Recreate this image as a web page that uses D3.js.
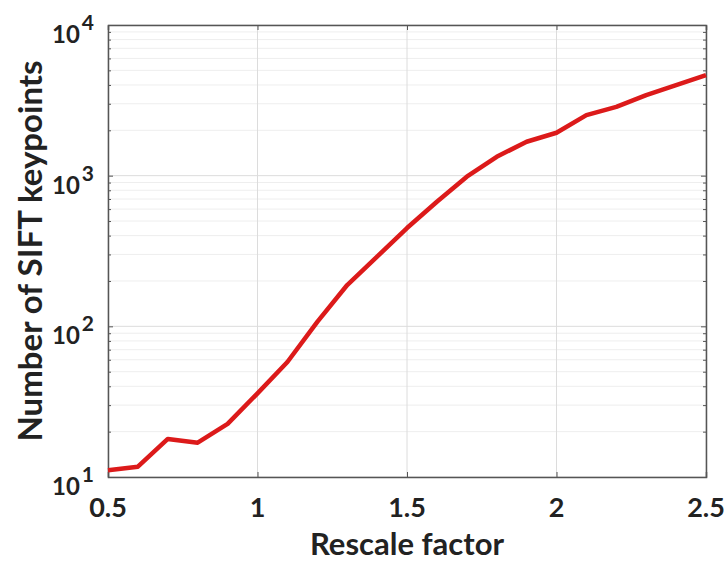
<!DOCTYPE html>
<meta charset="utf-8">
<style>
    body { margin: 0; background: #fff; }
    text { font-family: Lato, "Open Sans", sans-serif; font-weight: bold; fill: #222; }
    .grid-major line { stroke: #dcdcdc; stroke-width: 1; }
    .grid-minor line { stroke: #eeeeee; stroke-width: 1; }
    .line { fill: none; stroke: #dc1a1a; stroke-width: 4.5; stroke-linejoin: round; }
</style>

<body>
    <svg width="727" height="561"></svg>
    <script src="https://d3js.org/d3.v7.min.js"></script>
    <script>
        // rescale factor vs number of SIFT keypoints
        var factors = [0.5, 0.6, 0.7, 0.8, 0.9, 1.0, 1.1, 1.2, 1.3, 1.4, 1.5,
                       1.6, 1.7, 1.8, 1.9, 2.0, 2.1, 2.2, 2.3, 2.4, 2.5];
        var keypoints = [11.1, 11.7, 17.9, 16.9, 22.5, 35.9, 58, 107, 188, 290, 449,
                         671, 984, 1334, 1680, 1927, 2524, 2864, 3427, 3990, 4655];
        var xTicks = [0.5, 1, 1.5, 2, 2.5];
        var xTickLabels = ["0.5", "1", "1.5", "2", "2.5"];
        var yTicks = [10, 100, 1000, 10000];
        var yExponents = ["1", "2", "3", "4"];

        var svg = d3.select("svg"),
            margin = { top: 25, right: 21, bottom: 84, left: 108 },
            width = +svg.attr("width") - margin.left - margin.right,
            height = +svg.attr("height") - margin.top - margin.bottom;

        var x = d3.scaleLinear().domain([0.5, 2.5]).range([0, width]);
        var y = d3.scaleLog().domain([10, 10000]).range([height, 0]);

        var data = factors.map(function (f, i) { return { f: f, k: keypoints[i] }; });

        var g = svg.append("g")
            .attr("transform", "translate(" + margin.left + "," + margin.top + ")");

        // minor y grid (2..9 x decade)
        var minor = [];
        [10, 100, 1000].forEach(function (d) {
            for (var m = 2; m <= 9; m++) minor.push(d * m);
        });
        g.append("g").attr("class", "grid-minor")
            .selectAll("line").data(minor).enter().append("line")
            .attr("x1", 0).attr("x2", width)
            .attr("y1", function (d) { return y(d); })
            .attr("y2", function (d) { return y(d); });

        // major grids
        var gm = g.append("g").attr("class", "grid-major");
        gm.selectAll("line.h").data(yTicks).enter().append("line")
            .attr("class", "h")
            .attr("x1", 0).attr("x2", width)
            .attr("y1", function (d) { return y(d); })
            .attr("y2", function (d) { return y(d); });
        gm.selectAll("line.v").data(xTicks).enter().append("line")
            .attr("class", "v")
            .attr("y1", 0).attr("y2", height)
            .attr("x1", function (d) { return x(d); })
            .attr("x2", function (d) { return x(d); });

        // axes: ticks inward, box around
        var tickCol = "#555";
        var xAxis = d3.axisBottom(x).tickValues(xTicks).tickSize(-5).tickFormat("");
        var xAxisTop = d3.axisTop(x).tickValues(xTicks).tickSize(-5).tickFormat("");
        var yAxis = d3.axisLeft(y).tickValues(yTicks.concat(minor)).tickFormat("")
            .tickSizeInner(-5).tickSizeOuter(0);
        var yAxisRight = d3.axisRight(y).tickValues(yTicks.concat(minor)).tickFormat("")
            .tickSizeInner(-5).tickSizeOuter(0);

        [
            g.append("g").attr("transform", "translate(0," + height + ")").call(xAxis),
            g.append("g").call(xAxisTop),
            g.append("g").call(yAxis),
            g.append("g").attr("transform", "translate(" + width + ",0)").call(yAxisRight)
        ].forEach(function (a) {
            a.selectAll("path, line").attr("stroke", tickCol);
            a.select("path").attr("stroke-width", 1.5);
            a.selectAll(".tick line").attr("stroke-width", 1);
        });
        // minor ticks shorter
        g.selectAll(".tick").filter(function (d) { return minor.indexOf(d) > -1; })
            .select("line").attr("x2", function () { return +d3.select(this).attr("x2") * 0.6; });

        // line
        var line = d3.line()
            .x(function (d) { return x(d.f); })
            .y(function (d) { return y(d.k); });

        g.append("path").datum(data).attr("class", "line").attr("d", line);

        // x tick labels
        g.selectAll("text.xt").data(xTicks).enter().append("text")
            .attr("class", "xt")
            .attr("x", function (d) { return x(d); })
            .attr("y", height + 40)
            .attr("text-anchor", "middle")
            .style("font-size", "27px")
            .text(function (d, i) { return xTickLabels[i]; });

        // y tick labels 10^n
        var yl = g.selectAll("text.yt").data(yTicks).enter().append("text")
            .attr("class", "yt")
            .attr("x", -56)
            .attr("y", function (d) { return y(d) + 18; })
            .attr("text-anchor", "start")
            .style("font-size", "24px");
        yl.append("tspan").text("10");
        yl.append("tspan")
            .attr("dx", 2)
            .attr("dy", -13)
            .style("font-size", "21px")
            .text(function (d, i) { return yExponents[i]; });

        // axis titles
        svg.append("text")
            .attr("x", margin.left + width / 2)
            .attr("y", 555)
            .attr("text-anchor", "middle")
            .style("font-size", "31px")
            .text("Rescale factor");

        svg.append("text")
            .attr("transform", "translate(42," + (margin.top + height / 2) + ") rotate(-90)")
            .attr("text-anchor", "middle")
            .style("font-size", "33px")
            .text("Number of SIFT keypoints");
    </script>
</body>
